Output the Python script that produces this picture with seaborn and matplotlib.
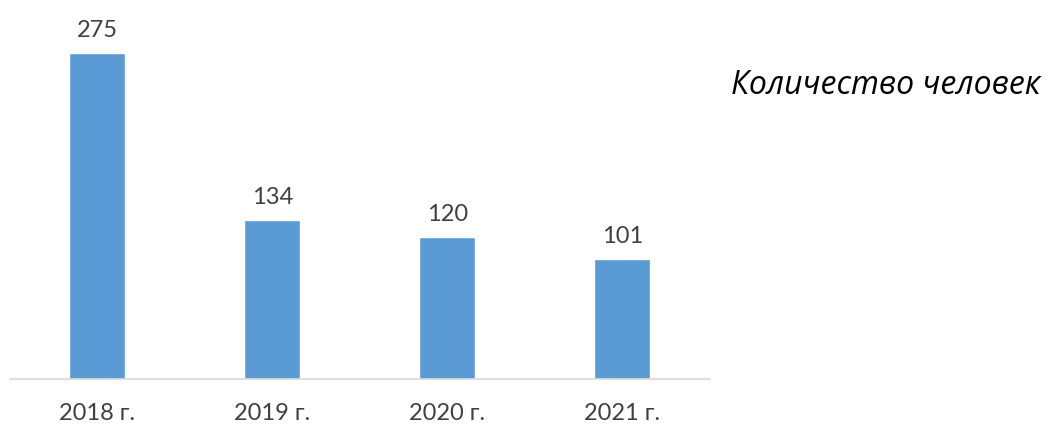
import matplotlib
matplotlib.use('Agg')
import matplotlib.pyplot as plt
import pandas as pd
import seaborn as sns

# chart data
years = ['2018 г.', '2019 г.', '2020 г.', '2021 г.']
people = [275, 134, 120, 101]
series_name = 'Количество человек'

df = pd.DataFrame({'year': years, 'people': people})

sns.set_style('white')
plt.rcParams['font.family'] = ['Lato', 'DejaVu Sans']

fig = plt.figure(figsize=(10.48, 4.28), dpi=100)
ax = fig.add_axes([10 / 1048, 1 - 379 / 428, 700 / 1048, 355.6 / 428])

sns.barplot(data=df, x='year', y='people', color='#5B9BD5', saturation=1,
            width=0.32, ax=ax)

ax.set_ylim(0, 300)
ax.set_xlim(-0.5, 3.5)
for p, v in zip(ax.patches, people):
    ax.text(p.get_x() + p.get_width() / 2, v + 10, str(v), ha='center', va='bottom',
            fontsize=17, color='#404040')

for s in ['top', 'right', 'left']:
    ax.spines[s].set_visible(False)
ax.spines['bottom'].set_color('#D9D9D9')
ax.spines['bottom'].set_linewidth(1.2)
ax.set_yticks([])
ax.set_xlabel('')
ax.set_ylabel('')
ax.tick_params(axis='x', length=0, pad=17, labelsize=17, labelcolor='#404040')

fig.text(1040 / 1048, 1 - 86 / 428, series_name, ha='right', va='center',
         fontsize=23, style='italic', color='black', family=['Open Sans', 'DejaVu Sans'])

fig.savefig('out.png', dpi=100)
